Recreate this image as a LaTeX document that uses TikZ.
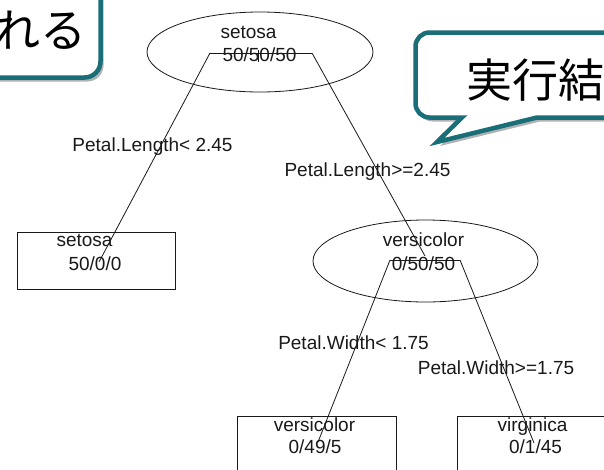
\documentclass[tikz,border=0pt]{standalone}
\usepackage{fontspec}
\setmainfont{Liberation Sans}
\newfontfamily\jpfont{Noto Sans CJK JP}
\usetikzlibrary{shapes.geometric,shadows}
\definecolor{calloutteal}{RGB}{25,110,120}
\definecolor{inkgray}{RGB}{25,25,25}
\begin{document}
\begin{tikzpicture}[x=1pt,y=-1pt,
  treeline/.style={draw=inkgray,line width=0.8pt},
  treebox/.style={draw=inkgray,line width=0.8pt,inner sep=0pt},
  txt/.style={inner sep=0pt,anchor=base,font=\fontsize{19}{22}\selectfont,text=inkgray},
  callout/.style={draw=calloutteal,line width=4.5pt,fill=white,
    drop shadow={shadow xshift=3pt,shadow yshift=-4pt,fill=black,opacity=0.3}},
  jp/.style={inner sep=0pt,anchor=base,font=\jpfont\fontsize{46}{50}\selectfont,text=black}]
\useasboundingbox (0,0) rectangle (604,469);
\clip (0,0) rectangle (604,469);
\fill[white] (0,0) rectangle (604,469);

% tree nodes
\node[treebox,ellipse,minimum width=226pt,minimum height=80pt] (root) at (260,52) {};
\node[treebox,ellipse,minimum width=225pt,minimum height=82pt] (vers) at (425.5,261) {};
\node[treebox,minimum width=158pt,minimum height=57pt] (leafS) at (96,260.5) {};
\node[treebox,minimum width=159pt,minimum height=57pt] (leafV) at (316.5,444.5) {};
\node[treebox,minimum width=159pt,minimum height=57pt] (leafG) at (536.5,444.5) {};

% node texts
\node[txt] (rootA) at (248.5,38) {setosa};
\node[txt] (rootB) at (259.5,61.5) {50/50/50};
\node[txt] (versA) at (423.5,246.7) {versicolor};
\node[txt] (versB) at (423.5,270) {0/50/50};
\node[txt] (leafSA) at (84.5,246) {setosa};
\node[txt] (leafSB) at (95,270) {50/0/0};
\node[txt] (leafVA) at (314.5,431) {versicolor};
\node[txt] (leafVB) at (315,453) {0/49/5};
\node[txt] (leafGA) at (532.5,431) {virginica};
\node[txt] (leafGB) at (535.5,453) {0/1/45};

% split labels
\node[txt] (lab1) at (152.5,151.7) {Petal.Length< 2.45};
\node[txt] (lab2) at (367.5,176.7) {Petal.Length>=2.45};
\node[txt] (lab3) at (353.5,349) {Petal.Width< 1.75};
\node[txt] (lab4) at (496,374) {Petal.Width>=1.75};

% branch points
\coordinate (rL) at (210,53);
\coordinate (rR) at (312,53);
\coordinate (rT1) at (258,50);
\coordinate (rT2) at (258,62);
\coordinate (vL) at (390,260);
\coordinate (vR) at (460,260);
\coordinate (eS) at (99,262);
\coordinate (eV) at (425,256);
\coordinate (eLV) at (318,442);
\coordinate (eLG) at (534,443);

\draw[treeline] (rL) -- (rR);
\draw[treeline] (rT1) -- (rT2);
\draw[treeline] (rL) -- (eS);
\draw[treeline] (rR) -- (eV);
\draw[treeline] (vL) -- (vR);
\draw[treeline] (vL) -- (eLV);
\draw[treeline] (vR) -- (eLG);

% callouts
\draw[callout,rounded corners=16pt] (-40,-40) rectangle (100.5,77.5);
\node[jp,anchor=base east] (jpL) at (87,47) {れる};

\path[callout] (700,32.5) -- (429.5,32.5) arc[start angle=270,end angle=180,radius=14]
  -- (415.5,103.5) arc[start angle=180,end angle=90,radius=14]
  -- (462,117.5) -- (437,142) -- (537,117.5) -- (700,117.5) -- cycle;
\node[jp,anchor=base west] (jpR) at (466,97) {実行結};
\end{tikzpicture}
\end{document}
